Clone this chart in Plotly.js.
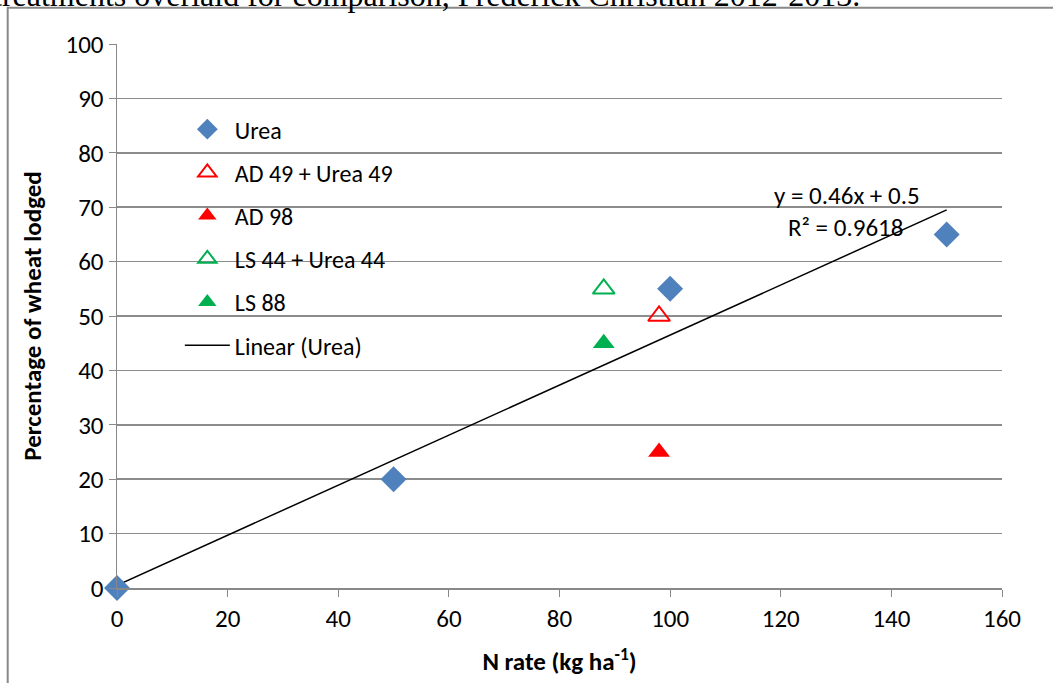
<!DOCTYPE html>
<html>
<head>
<meta charset="utf-8">
<script src="https://cdn.plot.ly/plotly-3.0.1.min.js"></script>
<style>html,body{margin:0;padding:0;background:#fff;}#chart{width:1053px;height:683px;}</style>
</head>
<body>
<div id="chart"></div>
<script>
// Data
const ureaX = [0, 50, 100, 150];
const ureaY = [0, 20, 55, 65];
const ad49X = [98];
const ad49Y = [50];
const ad98X = [98];
const ad98Y = [25];
const ls44X = [88];
const ls44Y = [55];
const ls88X = [88];
const ls88Y = [45];
const xTicks = [0, 20, 40, 60, 80, 100, 120, 140, 160];
const yTicks = [0, 10, 20, 30, 40, 50, 60, 70, 80, 90, 100];
const equationText = 'y = 0.46x + 0.5';
const r2Text = 'R² = 0.9618';
const captionText = 'treatments overlaid for comparison, Frederick Christian 2012-2013.';

// Least squares fit of the Urea series (Excel "Linear (Urea)" trendline)
const n = ureaX.length;
const mx = ureaX.reduce((a, b) => a + b, 0) / n;
const my = ureaY.reduce((a, b) => a + b, 0) / n;
let sxy = 0, sxx = 0;
for (let i = 0; i < n; i++) { sxy += (ureaX[i] - mx) * (ureaY[i] - my); sxx += (ureaX[i] - mx) ** 2; }
const slope = sxy / sxx;
const intercept = my - slope * mx;
const trendX = [Math.min(...ureaX), Math.max(...ureaX)];
const trendY = trendX.map(x => slope * x + intercept);

const FONT = 'Carlito, Calibri, "Liberation Sans Narrow", "Open Sans", sans-serif';
const FS = 25;

const traces = [
  {x: trendX, y: trendY, name: 'Linear (Urea)', mode: 'lines', type: 'scatter', legendrank: 6, legendgroup: 'g6',
   line: {color: '#000000', width: 1.5}, cliponaxis: false},
  {x: ureaX, y: ureaY, name: 'Urea', mode: 'markers', type: 'scatter', legendrank: 1, legendgroup: 'g1', cliponaxis: false,
   marker: {symbol: 'diamond', size: 20, color: '#4F81BD'}},
  {x: ad49X, y: ad49Y, name: 'AD 49 + Urea 49', mode: 'markers', type: 'scatter', legendrank: 2, legendgroup: 'g2', cliponaxis: false,
   marker: {symbol: 'triangle-up-open', size: 19, color: '#FF0000', line: {width: 2, color: '#FF0000'}}},
  {x: ad98X, y: ad98Y, name: 'AD 98', mode: 'markers', type: 'scatter', legendrank: 3, legendgroup: 'g3', cliponaxis: false,
   marker: {symbol: 'triangle-up', size: 19, color: '#FF0000'}},
  {x: ls44X, y: ls44Y, name: 'LS 44 + Urea 44', mode: 'markers', type: 'scatter', legendrank: 4, legendgroup: 'g4', cliponaxis: false,
   marker: {symbol: 'triangle-up-open', size: 19, color: '#00B050', line: {width: 2, color: '#00B050'}}},
  {x: ls88X, y: ls88Y, name: 'LS 88', mode: 'markers', type: 'scatter', legendrank: 5, legendgroup: 'g5', cliponaxis: false,
   marker: {symbol: 'triangle-up', size: 19, color: '#00B050'}}
];

const layout = {
  width: 1053, height: 683,
  margin: {l: 117, r: 51, t: 44, b: 95},
  paper_bgcolor: '#ffffff', plot_bgcolor: '#ffffff',
  font: {family: FONT, size: FS, color: '#000000'},
  showlegend: true,
  legend: {x: 0.071, y: 0.884, xanchor: 'left', yanchor: 'top', bgcolor: 'rgba(0,0,0,0)',
           font: {family: FONT, size: 24, color: '#000'}, traceorder: 'grouped', tracegroupgap: 9,
           itemwidth: 45},
  xaxis: {range: [0, 160], tickvals: xTicks, ticktext: xTicks.map(String), showgrid: false, zeroline: false,
          showline: true, linecolor: '#888888', linewidth: 1.5, ticks: 'outside', ticklen: 7, tickcolor: '#888888',
          tickfont: {family: FONT, size: FS}, fixedrange: true,
          title: {text: '<b>N rate (kg ha<sup>-1</sup>)</b>', font: {family: FONT, size: FS}, standoff: 20}},
  yaxis: {range: [0, 100], tickvals: yTicks, ticktext: yTicks.map(String), showgrid: true, gridcolor: '#8c8c8c', gridwidth: 1.5,
          zeroline: false, showline: true, linecolor: '#888888', linewidth: 1.5, ticks: 'outside', ticklen: 7, tickcolor: '#888888',
          tickfont: {family: FONT, size: FS}, fixedrange: true,
          title: {text: '<b>Percentage of wheat lodged</b>', font: {family: FONT, size: FS}, standoff: 16}},
  shapes: [
    {type: 'rect', xref: 'paper', yref: 'paper', x0: -0.1235, x1: 1.2, y0: -0.3, y1: 1.0665,
     line: {color: '#888888', width: 2}, fillcolor: 'rgba(0,0,0,0)', layer: 'below'}
  ],
  annotations: [
    {xref: 'x', yref: 'y', x: 145.5, y: 72.2, text: equationText, showarrow: false, xanchor: 'right', yanchor: 'middle',
     font: {family: FONT, size: 25, color: '#000'}},
    {xref: 'x', yref: 'y', x: 142.5, y: 66.2, text: r2Text, showarrow: false, xanchor: 'right', yanchor: 'middle',
     font: {family: FONT, size: 25, color: '#000'}},
    {xref: 'paper', yref: 'paper', x: 0.842, y: 1.054, text: captionText, showarrow: false, xanchor: 'right', yanchor: 'bottom',
     font: {family: '"Liberation Serif", "Times New Roman", serif', size: 32, color: '#000'}}
  ]
};

Plotly.newPlot('chart', traces, layout, {displayModeBar: false, staticPlot: true});
</script>
</body>
</html>
